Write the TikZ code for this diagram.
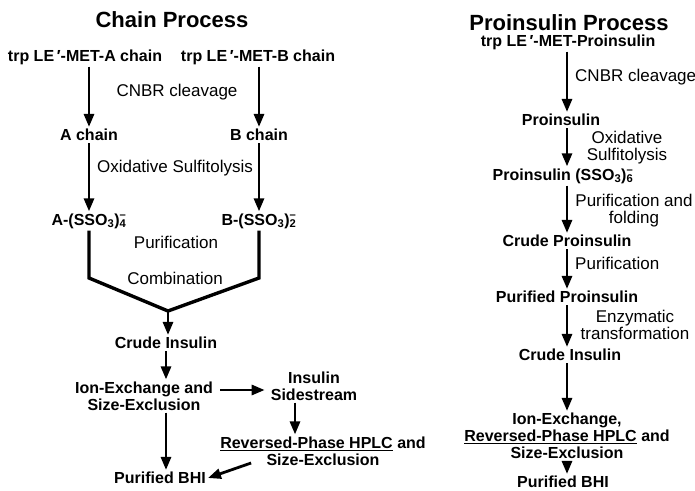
\documentclass[tikz,border=0pt]{standalone}
\usepackage{fontspec}
\setmainfont{Liberation Sans}
\usetikzlibrary{arrows.meta}

\newcommand{\chg}[1]{\rlap{\textsuperscript{\textendash}}\textsubscript{#1}}

\begin{document}
\begin{tikzpicture}[x=1pt, y=-1pt,
    title/.style={font=\fontsize{22}{24}\selectfont\bfseries},
    stage/.style={font=\fontsize{16}{17}\selectfont\bfseries, align=center, inner sep=2pt},
    op/.style={font=\fontsize{17}{17}\selectfont, align=center, inner sep=2pt},
    flow/.style={line width=2.8pt, -{Triangle[length=13pt,width=10pt]}},
    merge/.style={line width=3.4pt, line join=miter}]
        \useasboundingbox (0,0) rectangle (695,490);

        \node[title] (titleL) at (172,20) {Chain Process};
        \node[title] (titleR) at (569,23) {Proinsulin Process};

        \node[stage] (trpA)   at (85,57)   {trp LE\,′-MET-A chain};
        \node[stage] (trpB)   at (258,57)  {trp LE\,′-MET-B chain};
        \node[op]    (cnbrL)  at (177,92)  {CNBR cleavage};
        \node[stage] (chainA) at (89,135)  {A chain};
        \node[stage] (chainB) at (259,135) {B chain};
        \node[op]    (oxL)    at (175,168) {Oxidative Sulfitolysis};
        \node[stage] (ssoA)   at (89,221)  {A-(SSO\textsubscript{3})\chg{4}};
        \node[stage] (ssoB)   at (259,221) {B-(SSO\textsubscript{3})\chg{2}};
        \node[op]    (purL)   at (176,242) {Purification};
        \node[op]    (combL)  at (175,278) {Combination};
        \coordinate  (join)   at (168,311);
        \node[stage] (crudeL) at (166,343) {Crude Insulin};
        \node[stage] (ionL)   at (144,396) {Ion-Exchange and\\Size-Exclusion};
        \node[stage] (side)   at (314,386) {Insulin\\Sidestream};
        \node[stage] (rp)     at (323,451) {\underline{Reversed-Phase HPLC} and\\Size-Exclusion};
        \node[stage] (bhiL)   at (160,478) {Purified BHI};

        \coordinate  (axis)   at (567,0);
        \node[stage] (trpP)   at (568,42)  {trp LE\,′-MET-Proinsulin};
        \node[op, anchor=west] (cnbrR) at (573,77) {CNBR cleavage};
        \node[stage] (pro)    at (561,120) {Proinsulin};
        \node[op]    (oxR)    at (627,148) {Oxidative\\Sulfitolysis};
        \node[stage] (proSSO) at (563,176) {Proinsulin (SSO\textsubscript{3})\chg{6}};
        \node[op]    (pfR)    at (634,211) {Purification and\\folding};
        \node[stage] (crudeP) at (567,241) {Crude Proinsulin};
        \node[op, anchor=west] (purR) at (573,263) {Purification};
        \node[stage] (purP)   at (567,297) {Purified Proinsulin};
        \node[op]    (enzR)   at (635,325) {Enzymatic\\transformation};
        \node[stage] (crudeR) at (570,355) {Crude Insulin};
        \node[stage] (ionR)   at (567,436) {Ion-Exchange,\\\underline{Reversed-Phase HPLC} and\\Size-Exclusion};
        \node[stage] (bhiR)   at (563,482) {Purified BHI};

        \draw[flow] (trpA.south -| chainA) -- (chainA);
        \draw[flow] (trpB.south -| chainB) -- (chainB);
        \draw[flow] (chainA) -- (ssoA);
        \draw[flow] (chainB) -- (ssoB);
        \draw[merge] (ssoA) -- (ssoA |- combL) -- (join) -- (ssoB |- combL) -- (ssoB);
        \draw[flow] (join) -- (join |- crudeL.north);
        \draw[flow] (crudeL) -- (crudeL |- ionL.north);
        \draw[flow] (ionL.south -| crudeL) -- (crudeL |- bhiL.north);
        \draw[flow, shorten <=5pt, shorten >=4pt] ([yshift=6pt]ionL.east) -- ([yshift=6pt]ionL.east -| side.west);
        \draw[flow] ([xshift=-19pt]side.south) -- ([xshift=-19pt]side.south |- rp.north);
        \draw[flow] ([shift={(33pt,-12pt)}]rp.west) -- (bhiL.east);

        \draw[flow] (trpP.south -| axis)   -- (pro.north -| axis);
        \draw[flow] (pro.south -| axis)    -- (proSSO.north -| axis);
        \draw[flow] (proSSO.south -| axis) -- (crudeP.north -| axis);
        \draw[flow] (crudeP.south -| axis) -- (purP.north -| axis);
        \draw[flow] (purP.south -| axis)   -- (crudeR.north -| axis);
        \draw[flow] (crudeR.south -| axis) -- (ionR.north -| axis);
        \draw[flow] (ionR.south -| axis)   -- (bhiR.north -| axis);
\end{tikzpicture}
\end{document}
